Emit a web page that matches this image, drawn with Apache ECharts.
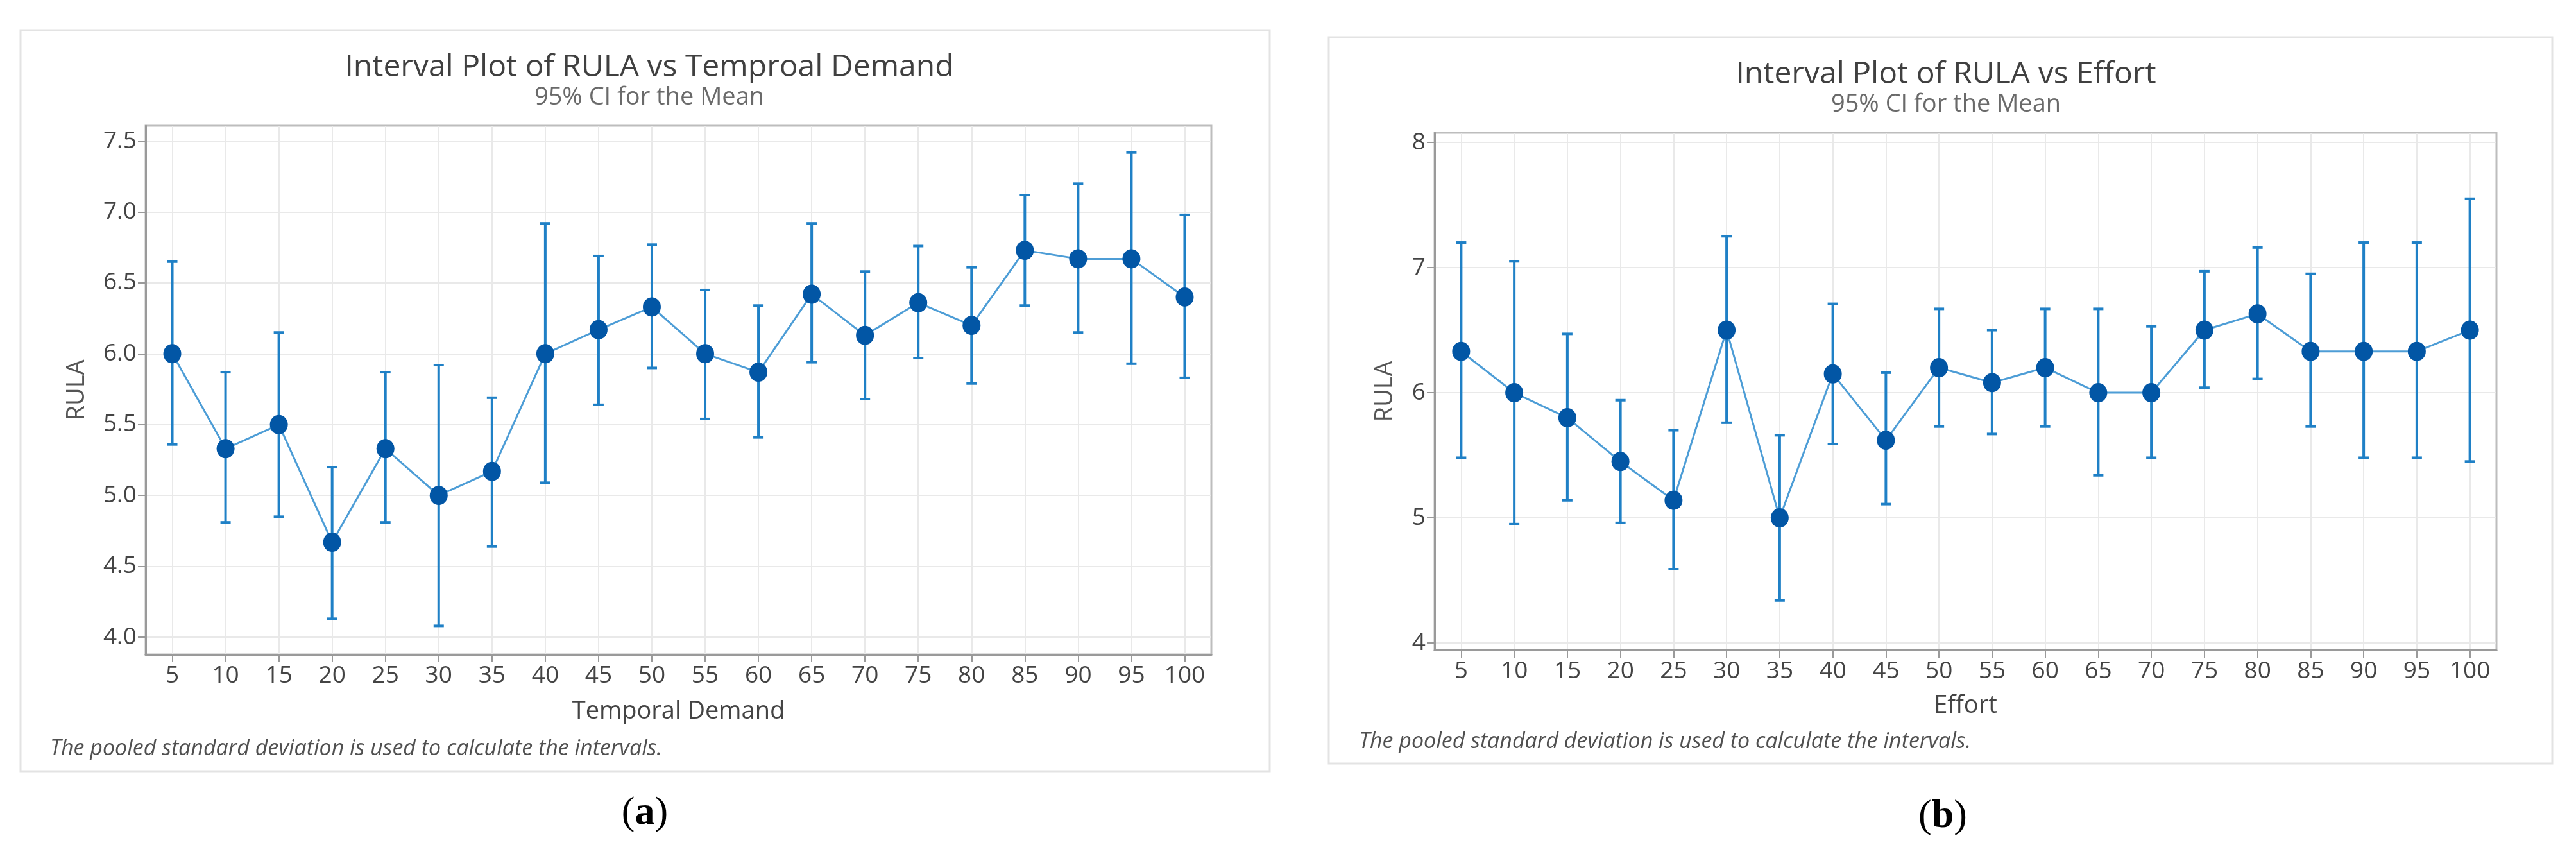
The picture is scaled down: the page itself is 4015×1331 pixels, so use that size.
<!DOCTYPE html>
<html>
<head>
<meta charset="utf-8">
<script src="https://cdn.jsdelivr.net/npm/echarts@6/dist/echarts.min.js"></script>
<style>html,body{margin:0;padding:0;background:#fff}#c{width:4015px;height:1331px}</style>
</head>
<body>
<div id="c"></div>
<script>
var categories = ['5','10','15','20','25','30','35','40','45','50','55','60','65','70','75','80','85','90','95','100'];

var meanA  = [6.00,5.33,5.50,4.67,5.33,5.00,5.17,6.00,6.17,6.33,6.00,5.87,6.42,6.13,6.36,6.20,6.73,6.67,6.67,6.40];
var upperA = [6.65,5.87,6.15,5.20,5.87,5.92,5.69,6.92,6.69,6.77,6.45,6.34,6.92,6.58,6.76,6.61,7.12,7.20,7.42,6.98];
var lowerA = [5.36,4.81,4.85,4.13,4.81,4.08,4.64,5.09,5.64,5.90,5.54,5.41,5.94,5.68,5.97,5.79,6.34,6.15,5.93,5.83];

var meanB  = [6.33,6.00,5.80,5.45,5.14,6.50,5.00,6.15,5.62,6.20,6.08,6.20,6.00,6.00,6.50,6.63,6.33,6.33,6.33,6.50];
var upperB = [7.20,7.05,6.47,5.94,5.70,7.25,5.66,6.71,6.16,6.67,6.50,6.67,6.67,6.53,6.97,7.16,6.95,7.20,7.20,7.55];
var lowerB = [5.48,4.95,5.14,4.96,4.59,5.76,4.34,5.59,5.11,5.73,5.67,5.73,5.34,5.48,6.04,6.11,5.73,5.48,5.48,5.45];

var titleA = 'Interval Plot of RULA vs Temproal Demand';
var titleB = 'Interval Plot of RULA vs Effort';
var subTitle = '95% CI for the Mean';
var xNameA = 'Temporal Demand';
var xNameB = 'Effort';
var yName = 'RULA';
var footnote = 'The pooled standard deviation is used to calculate the intervals.';

var FONT = 'Open Sans';
var barColor = '#1f80c6';
var lineColor = '#4d9dd6';
var dotColor = '#0256a5';

function errData(lo, hi) {
  return lo.map(function (v, i) { return [i, v, hi[i]]; });
}
function renderErr(params, api) {
  var p1 = api.coord([api.value(0), api.value(1)]);
  var p2 = api.coord([api.value(0), api.value(2)]);
  var cw = 8;
  var st = { stroke: barColor, lineWidth: 4 };
  return {
    type: 'group',
    children: [
      { type: 'line', shape: { x1: p1[0], y1: p1[1], x2: p2[0], y2: p2[1] }, style: st },
      { type: 'line', shape: { x1: p1[0] - cw, y1: p1[1], x2: p1[0] + cw, y2: p1[1] }, style: st },
      { type: 'line', shape: { x1: p2[0] - cw, y1: p2[1], x2: p2[0] + cw, y2: p2[1] }, style: st }
    ]
  };
}

function xAxis(gi, name, gap) {
  return {
    type: 'category', gridIndex: gi, data: categories, boundaryGap: true,
    name: name, nameLocation: 'middle', nameGap: gap,
    nameTextStyle: { fontFamily: FONT, fontSize: 38, color: '#444' },
    axisLine: { show: true, lineStyle: { color: '#9a9a9a', width: 3 } },
    axisTick: { show: true, alignWithLabel: true, length: 12, lineStyle: { color: '#9a9a9a', width: 2 } },
    axisLabel: { fontFamily: FONT, fontSize: 37, color: '#444', margin: 15, interval: 0 },
    splitLine: { show: true, alignWithLabel: true, interval: 0, lineStyle: { color: '#e9e9e9', width: 2 } }
  };
}
function yAxis(gi, min, max, split, fmt, gap) {
  return {
    type: 'value', gridIndex: gi, min: min, max: max, splitNumber: split,
    name: yName, nameLocation: 'middle', nameGap: gap, nameRotate: 90,
    nameTextStyle: { fontFamily: FONT, fontSize: 38, color: '#555' },
    axisLine: { show: true, lineStyle: { color: '#9a9a9a', width: 3 } },
    axisTick: { show: true, length: 12, lineStyle: { color: '#9a9a9a', width: 2 } },
    axisLabel: { fontFamily: FONT, fontSize: 37, color: '#444', margin: 14, showMinLabel: false, showMaxLabel: false,
      formatter: function (v) { return v.toFixed(fmt); } },
    splitLine: { show: true, showMinLine: false, showMaxLine: false, lineStyle: { color: '#e9e9e9', width: 2 } }
  };
}

var chart = echarts.init(document.getElementById('c'), null, { renderer: 'canvas' });
chart.setOption({
  backgroundColor: '#ffffff',
  animation: false,
  title: [
    { text: titleA, left: 1007, top: 76, textAlign: 'center', textStyle: { fontFamily: FONT, fontSize: 48, fontWeight: 'normal', color: '#404040' } },
    { text: subTitle, left: 1007, top: 128, textAlign: 'center', textStyle: { fontFamily: FONT, fontSize: 38, fontWeight: 'normal', color: '#6a6a6a' } },
    { text: titleB, left: 3028, top: 87, textAlign: 'center', textStyle: { fontFamily: FONT, fontSize: 48, fontWeight: 'normal', color: '#404040' } },
    { text: subTitle, left: 3028, top: 139, textAlign: 'center', textStyle: { fontFamily: FONT, fontSize: 38, fontWeight: 'normal', color: '#6a6a6a' } }
  ],
  grid: [
    { left: 227, top: 196, width: 1661, height: 824, show: true, borderColor: '#bdbdbd', borderWidth: 3, backgroundColor: 'transparent' },
    { left: 2236, top: 207, width: 1655, height: 806, show: true, borderColor: '#bdbdbd', borderWidth: 3, backgroundColor: 'transparent' }
  ],
  xAxis: [xAxis(0, xNameA, 70), xAxis(1, xNameB, 68)],
  yAxis: [yAxis(0, 3.878, 7.609, 7, 1, 88), yAxis(1, 3.944, 8.077, 4, 0, 58)],
  graphic: [
    { type: 'rect', shape: { x: 32, y: 47, width: 1947, height: 1155 }, style: { fill: 'none', stroke: '#e3e3e3', lineWidth: 3 }, z: -1 },
    { type: 'rect', shape: { x: 2071, y: 58, width: 1907, height: 1132 }, style: { fill: 'none', stroke: '#e3e3e3', lineWidth: 3 }, z: -1 },
    { type: 'text', x: 78, y: 1167, style: { text: footnote, fontFamily: FONT, fontStyle: 'italic', fontSize: 34, fill: '#505050', textVerticalAlign: 'middle', textAlign: 'left' } },
    { type: 'text', x: 2118, y: 1156, style: { text: footnote, fontFamily: FONT, fontStyle: 'italic', fontSize: 34, fill: '#505050', textVerticalAlign: 'middle', textAlign: 'left' } },
    { type: 'text', x: 1005, y: 1268, style: { text: '{n|(}{b|a}{n|)}', textAlign: 'center', textVerticalAlign: 'middle',
        rich: { n: { fontFamily: 'Liberation Serif', fontSize: 62, fill: '#000' }, b: { fontFamily: 'Liberation Serif', fontSize: 62, fontWeight: 'bold', fill: '#000' } } } },
    { type: 'text', x: 3028, y: 1273, style: { text: '{n|(}{b|b}{n|)}', textAlign: 'center', textVerticalAlign: 'middle',
        rich: { n: { fontFamily: 'Liberation Serif', fontSize: 62, fill: '#000' }, b: { fontFamily: 'Liberation Serif', fontSize: 62, fontWeight: 'bold', fill: '#000' } } } }
  ],
  series: [
    { type: 'custom', xAxisIndex: 0, yAxisIndex: 0, data: errData(lowerA, upperA), renderItem: renderErr, z: 2, silent: true },
    { type: 'line', xAxisIndex: 0, yAxisIndex: 0, data: meanA, symbol: 'circle', symbolSize: [28, 30],
      lineStyle: { color: lineColor, width: 3 }, itemStyle: { color: dotColor }, z: 3 },
    { type: 'custom', xAxisIndex: 1, yAxisIndex: 1, data: errData(lowerB, upperB), renderItem: renderErr, z: 2, silent: true },
    { type: 'line', xAxisIndex: 1, yAxisIndex: 1, data: meanB, symbol: 'circle', symbolSize: [28, 30],
      lineStyle: { color: lineColor, width: 3 }, itemStyle: { color: dotColor }, z: 3 }
  ]
});
</script>
</body>
</html>
